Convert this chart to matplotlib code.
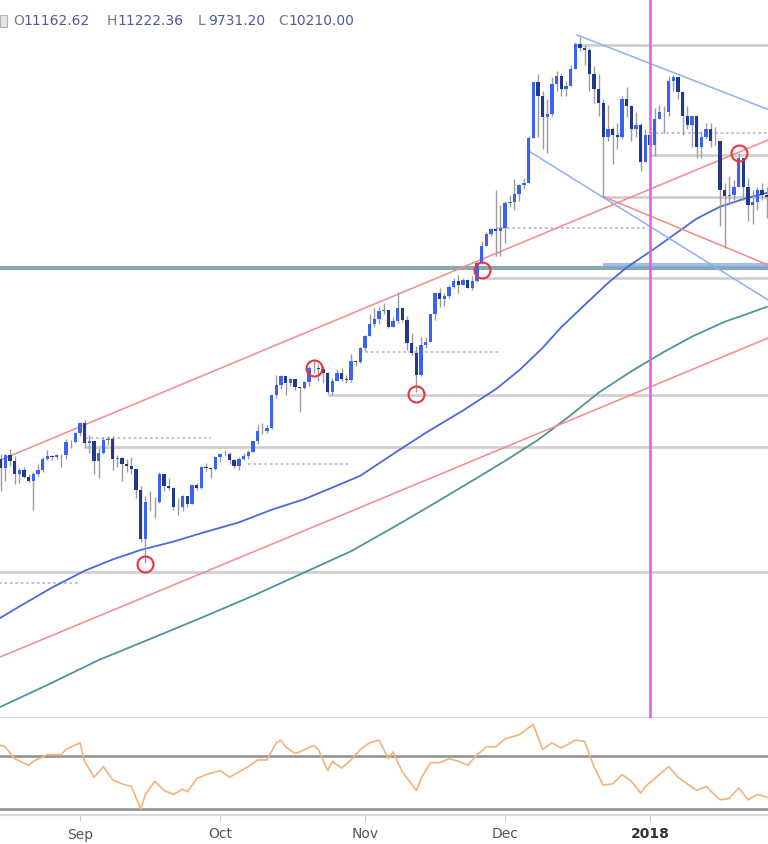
import matplotlib
matplotlib.use("Agg")
import matplotlib.pyplot as plt
import matplotlib.dates as mdates
from matplotlib.patches import Rectangle
from matplotlib.ticker import NullLocator
import numpy as np
import pandas as pd

# daily candles, 15 Aug 2017 .. 26 Jan 2018
opens = [
    4330, 4180, 4380, 4290, 4100, 4150, 4050, 4000, 4100, 4150, 4330, 4370, 4350, 4380, 4390, 4600, 4590,
    4750, 4920, 4580, 4610, 4290, 4420, 4630, 4640, 4330, 4340, 4250, 4220, 4170, 3870, 3240,
    3700, 3700, 3700, 4090, 3920, 3890, 3630, 3630, 3780, 3670, 3930, 3890, 4200, 4190, 4170,
    4360, 4400, 4400, 4310, 4220, 4330, 4370, 4430, 4610, 4780, 4780, 4830, 5440, 5640, 5830, 5690,
    5760, 5600, 5580, 5700, 6000, 6010, 5980, 5900, 5500, 5730, 5890, 5770, 5750, 6150, 6130,
    6450, 6740, 7030, 7160, 7380, 7390, 6960, 7120, 7440, 7140, 6570, 6340, 5860, 6530, 6600,
    7280, 7850, 7700, 7780, 8040, 8200, 8080, 8230, 8020, 8200, 8750, 9300, 9720, 9900, 9840,
    9950, 10860, 10910, 11250, 11600, 11670, 13750, 16800, 16000, 14800, 15000, 16700, 17200, 16400, 16600,
    17600, 19300, 19000, 18900, 17300, 16400, 15600, 13800, 14200, 13900, 13800, 15800, 15400, 14200, 14400, 12600,
    13900, 13400, 14700, 15100, 15100, 16900, 17100, 16200, 14900, 14400, 14900, 13300, 13800, 14200, 13600,
    13600, 11400, 11150, 11200, 11500, 12800, 11500, 10800, 10900, 11400, 11200,
]
highs = [
    4400, 4400, 4480, 4370, 4180, 4200, 4100, 4130, 4250, 4350, 4460, 4380, 4400, 4400, 4640, 4630, 4770,
    4930, 4980, 4720, 4610, 4500, 4680, 4700, 4700, 4380, 4350, 4320, 4350, 4170, 3920, 3780,
    3850, 3770, 4120, 4100, 4040, 3910, 3760, 3800, 3790, 3950, 3970, 4210, 4260, 4200, 4370,
    4410, 4460, 4430, 4330, 4360, 4420, 4470, 4620, 4880, 4920, 4880, 5450, 5860, 5850, 5840,
    5790, 5770, 5610, 5720, 6050, 6200, 6080, 6050, 5920, 5780, 5980, 6000, 5860, 6300, 6170, 6470,
    6750, 7300, 7450, 7480, 7580, 7400, 7200, 7880, 7450, 7240, 6800, 6490, 6700, 6700, 7300,
    7900, 8000, 7850, 8100, 8300, 8380, 8300, 8270, 8350, 8780, 9500, 9780, 9950, 11400, 10800,
    10950, 11200, 11850, 11650, 11900, 13850, 16800, 17300, 16300, 15800, 17100, 17500, 17400, 16900, 17900,
    19400, 19783, 19200, 19000, 17800, 17300, 15800, 15500, 14300, 14500, 16000, 16500, 15500, 15100, 14500, 14200,
    14000, 15300, 15500, 15400, 17200, 17250, 17100, 16300, 15400, 14900, 14950, 14100, 14500, 14500, 14300,
    13600, 11700, 12000, 11800, 13000, 12800, 11900, 11400, 11500, 11700, 11500,
]
lows = [
    3850, 4000, 4220, 3950, 3970, 4030, 3980, 3600, 4070, 4120, 4310, 4300, 4320, 4200, 4330, 4500, 4580,
    4700, 4500, 4420, 4100, 4030, 4400, 4550, 4150, 4200, 4000, 4120, 4100, 3760, 3200, 2972,
    3580, 3500, 3690, 3850, 3860, 3600, 3530, 3580, 3640, 3670, 3860, 3880, 4140, 4040, 4160,
    4280, 4370, 4240, 4180, 4160, 4310, 4320, 4430, 4570, 4730, 4750, 4820, 5380, 5560, 5450,
    5620, 5550, 5120, 5560, 5620, 5900, 5730, 5680, 5460, 5450, 5730, 5720, 5690, 5710, 6040, 6100,
    6380, 6740, 6950, 7030, 7300, 6940, 6960, 7050, 7070, 6410, 6280, 5500, 5820, 6450, 6600,
    7130, 7480, 7500, 7710, 8020, 7850, 8080, 8000, 7940, 8170, 8740, 9300, 9650, 9000, 9000,
    9400, 10700, 10600, 10950, 11450, 11670, 13750, 13800, 13200, 13000, 14900, 16300, 16000, 16000, 16600,
    17600, 18800, 17900, 16300, 15600, 14900, 11100, 13600, 12500, 13200, 13700, 14800, 13600, 13800, 12200, 12600,
    12800, 12900, 14700, 14000, 14900, 16300, 15800, 13900, 14200, 13300, 12800, 12800, 13700, 13300, 13400,
    10000, 9250, 10800, 11000, 11500, 11000, 10200, 10100, 10600, 11000, 10300,
]
closes = [
    4180, 4380, 4290, 4100, 4150, 4050, 4000, 4100, 4150, 4330, 4370, 4350, 4380, 4390, 4600, 4590, 4750,
    4920, 4580, 4610, 4290, 4420, 4630, 4640, 4330, 4340, 4250, 4220, 4170, 3870, 3240, 3700,
    3700, 3700, 4090, 3920, 3890, 3630, 3630, 3780, 3670, 3930, 3890, 4200, 4190, 4170, 4360,
    4400, 4400, 4310, 4220, 4330, 4370, 4430, 4610, 4780, 4780, 4830, 5440, 5640, 5830, 5690,
    5760, 5600, 5580, 5700, 6000, 6010, 5980, 5900, 5500, 5730, 5890, 5770, 5750, 6150, 6130, 6450,
    6740, 7030, 7160, 7380, 7390, 6960, 7120, 7440, 7140, 6570, 6340, 5860, 6530, 6600, 7280,
    7850, 7700, 7780, 8040, 8200, 8080, 8230, 8020, 8200, 8750, 9300, 9720, 9900, 9840, 9950,
    10860, 10910, 11250, 11600, 11670, 13750, 16800, 16000, 14800, 15000, 16700, 17200, 16400, 16600, 17600,
    19300, 19000, 18900, 17300, 16400, 15600, 13800, 14200, 13900, 13800, 15800, 15400, 14200, 14400, 12600, 13900,
    13400, 14700, 15100, 15100, 16900, 17100, 16200, 14900, 14400, 14900, 13300, 13800, 14200, 13600, 13600,
    11400, 11150, 11200, 11500, 12800, 11500, 10800, 10900, 11400, 11200, 11100,
]

# moving averages
ma_fast_dates = ["2017-08-15", "2017-08-19", "2017-08-26", "2017-09-02", "2017-09-08", "2017-09-14",
                 "2017-09-21", "2017-09-27", "2017-10-05", "2017-10-12", "2017-10-19", "2017-10-25",
                 "2017-10-31", "2017-11-08", "2017-11-14", "2017-11-22", "2017-11-29", "2017-12-04",
                 "2017-12-09", "2017-12-13", "2017-12-19", "2017-12-23", "2017-12-27", "2018-01-02",
                 "2018-01-07", "2018-01-11", "2018-01-16", "2018-01-21", "2018-01-26"]
ma_fast = [2440, 2540, 2720, 2890, 3010, 3115, 3210, 3310, 3440, 3600, 3740, 3900, 4070, 4450, 4750,
           5150, 5560, 5950, 6450, 6950, 7650, 8150, 8620, 9230, 9800, 10280, 10730, 11030, 11280]
ma_slow_dates = ["2017-08-15", "2017-08-26", "2017-09-05", "2017-09-16", "2017-09-27", "2017-10-08",
                 "2017-10-18", "2017-10-29", "2017-11-08", "2017-11-16", "2017-11-26", "2017-12-02",
                 "2017-12-08", "2017-12-15", "2017-12-21", "2017-12-28", "2018-01-04", "2018-01-10",
                 "2018-01-17", "2018-01-22", "2018-01-26"]
ma_slow = [1770, 1930, 2095, 2260, 2440, 2640, 2850, 3100, 3410, 3690, 4080, 4340, 4630, 5060, 5490,
           5930, 6360, 6720, 7090, 7300, 7480]

# horizontal levels
solid_levels = [19230, 12930, 11130, 8300, 5450, 4515, 2877]
solid_starts = ["2017-12-16", "2018-01-01", "2017-12-22", "2017-11-26", "2017-10-24", "2017-09-02", "2017-08-10"]
dotted_levels = [14000, 9945, 6357, 4663, 4248, 2765]
dotted_starts = ["2018-01-01", "2017-11-29", "2017-10-31", "2017-09-02", "2017-10-07", "2017-08-10"]
dotted_ends = ["2018-01-30", "2017-12-31", "2017-11-30", "2017-09-29", "2017-10-29", "2017-09-01"]
key_level = 8605
zone_level = 8700
zone_start = "2017-12-22"

# trend lines (start, end)
red_channel_top = (("2017-08-14 22:00", 4307), ("2018-01-26 07:00", 13650))
red_channel_bot = (("2017-08-14 22:00", 2118), ("2018-01-26 07:00", 6687))
red_falling = (("2017-12-22", 11130), ("2018-01-26 07:00", 8700))
blue_top = (("2017-12-16 10:00", 19920), ("2018-01-26 07:00", 15230))
blue_bot = (("2017-12-06 07:00", 13080), ("2018-01-26 07:00", 7668))

circle_dates = ["2017-09-15", "2017-10-21", "2017-11-12", "2017-11-26", "2018-01-20"]
circle_prices = [2960, 6000, 5470, 8550, 13030]

# RSI (day offset from 15 Aug, value)
rsi_days = [0, 1, 3, 6, 7, 10, 13, 14, 17, 18, 20, 22, 24, 26, 28, 30, 31, 33, 35, 37, 39, 40, 42, 44, 47,
            49, 51, 53, 55, 57, 59, 60, 61, 63, 64, 67, 68, 70, 71, 73, 75, 77, 79, 81, 83, 84, 86, 89,
            90, 92, 94, 96, 98, 100, 102, 104, 106, 108, 111, 114, 116, 118, 120, 123, 125, 127, 129,
            131, 133, 135, 137, 138, 140, 143, 145, 147, 149, 151, 154, 156, 158, 160, 162, 164]
rsi_vals = [78, 77, 68, 63, 66, 71, 71, 75, 80, 66, 54, 62, 52, 49, 47, 30, 41, 51, 44, 41, 45, 43, 53, 56, 59,
            54, 58, 62, 67, 67, 80, 82, 77, 72, 73, 78, 75, 59, 66, 61, 67, 75, 80, 82, 68, 73, 58, 44,
            53, 65, 65, 68, 66, 63, 71, 77, 77, 83, 86, 94, 75, 80, 76, 82, 81, 62, 48,
            49, 56, 51, 42, 47, 53, 62, 54, 49, 44, 47, 37, 38, 46, 37, 41, 39]

month_ticks = ["2017-09-01", "2017-10-01", "2017-11-01", "2017-12-01", "2018-01-01"]
month_labels = ["Sep", "Oct", "Nov", "Dec", "2018"]

header = [("O", "11162.62"), ("H", "11222.36"), ("L", "9731.20"), ("C", "10210.00")]


def dnum(s):
    return mdates.date2num(pd.Timestamp(s))


days = mdates.date2num(pd.date_range("2017-08-15", periods=len(closes)).to_pydatetime())
o = np.array(opens, float)
h = np.array(highs, float)
l = np.array(lows, float)
c = np.array(closes, float)

fig = plt.figure(figsize=(7.68, 8.44), dpi=100)
ax = fig.add_axes([0, 126 / 844, 1, 718 / 844])
rax = fig.add_axes([0, 29 / 844, 1, 97 / 844])

sep1 = dnum("2017-09-01")
x_lo = sep1 - 80 / 4.672
x_hi = sep1 + 688 / 4.672

# levels
for lev, st in zip(solid_levels, solid_starts):
    ax.hlines(lev, dnum(st), x_hi + 5, color="#d0d0d0", lw=2, zorder=1)
for lev, st, en in zip(dotted_levels, dotted_starts, dotted_ends):
    ax.hlines(lev, dnum(st), dnum(en), color="#b9b9e6", lw=1.3, linestyles=(0, (1.5, 1.5)), zorder=1)
ax.axhline(key_level, color="#86a9ae", lw=3, zorder=1)
ax.hlines(zone_level, dnum(zone_start), x_hi + 5, color="#8aaee6", lw=3, alpha=0.8, zorder=1)

# moving averages
ax.plot([dnum(d) for d in ma_fast_dates], ma_fast, color="#4a6ad8", lw=1.3, zorder=2)
ax.plot([dnum(d) for d in ma_slow_dates], ma_slow, color="#4f9497", lw=1.3, zorder=2)

# trend lines
for line, col in [(red_channel_top, "#f28a8a"), (red_channel_bot, "#f28a8a"),
                  (red_falling, "#f28a8a"), (blue_top, "#93aef0"), (blue_bot, "#93aef0")]:
    ax.plot([dnum(line[0][0]), dnum(line[1][0])], [line[0][1], line[1][1]], color=col, lw=1.1, zorder=2)

# candles
up = c >= o
ax.vlines(days, l, h, color="#9c9c9c", lw=1, zorder=3)
ax.bar(days[up], np.abs(c - o)[up], bottom=np.minimum(o, c)[up], width=0.72,
       color="#3a63f2", zorder=4)
ax.bar(days[~up], np.abs(c - o)[~up], bottom=np.minimum(o, c)[~up], width=0.72,
       color="#20398a", zorder=4)

ax.plot([dnum(d) for d in circle_dates], circle_prices, "o", mfc="none", mec="#e8353b",
        ms=11.5, mew=1.5, zorder=5)

ax.axvline(dnum("2018-01-01"), color="#e35be6", lw=1.8, zorder=6)

ax.set_yscale("log")
ax.set_ylim(1700, 22600)
ax.set_xlim(x_lo, x_hi)
ax.yaxis.set_major_locator(NullLocator())
ax.yaxis.set_minor_locator(NullLocator())
ax.set_xticks([])
for s in ["top", "left", "right"]:
    ax.spines[s].set_visible(False)
ax.spines["bottom"].set_color("#d9d9d9")
ax.spines["bottom"].set_linewidth(1.6)

# RSI panel
rsi_x = mdates.date2num(pd.Timestamp("2017-08-15")) + np.array(rsi_days)
rax.axhline(70, color="#8e8e8e", lw=1.8)
rax.axhline(30, color="#8e8e8e", lw=1.8)
rax.plot(rsi_x, rsi_vals, color="#f3b27a", lw=1.2)
rax.set_xlim(x_lo, x_hi)
rax.set_ylim(25.5, 98.7)
rax.set_yticks([])
for s in ["top", "left", "right"]:
    rax.spines[s].set_visible(False)
rax.spines["bottom"].set_color("#d9d9d9")
rax.spines["bottom"].set_linewidth(1.6)
rax.set_xticks([dnum(d) for d in month_ticks])
rax.set_xticklabels(month_labels)
rax.tick_params(axis="x", length=4, color="#c8c8c8", labelsize=10, labelcolor="#555555", pad=5)
rax.get_xticklabels()[-1].set_fontweight("bold")
rax.get_xticklabels()[-1].set_color("#333333")

# header: small icon and OHLC values
fig.patches.append(Rectangle((0, 1 - 27 / 844), 7 / 768, 12 / 844, transform=fig.transFigure,
                             fc="#e6e6e6", ec="#b0b0b0", lw=0.8))
xs = [13, 107, 198, 278]
for (k, v), xp in zip(header, xs):
    fig.text(xp / 768, 1 - 21 / 844, k, color="#7a7a7a", fontsize=10, va="center", ha="left")
    fig.text((xp + 10) / 768, 1 - 21 / 844, v, color="#4c5a9a", fontsize=10, va="center", ha="left")

fig.savefig("out.png", dpi=100)
